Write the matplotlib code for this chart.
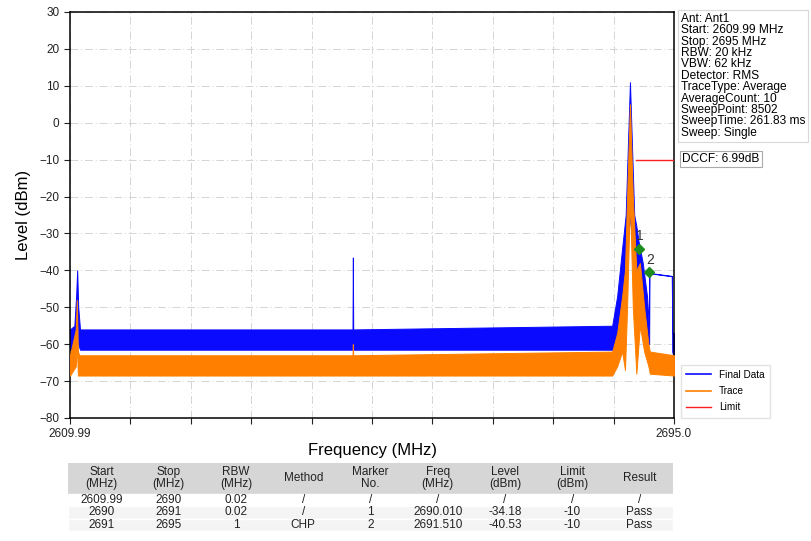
import numpy as np
import matplotlib.pyplot as plt
from matplotlib.patches import Rectangle

plt.rcParams['font.family'] = ['Liberation Sans', 'DejaVu Sans']

f_start, f_stop = 2609.99, 2695.0

# Final Data envelope (MHz, low dBm, high dBm)
blue_f = [2609.99, 2610.6, 2610.85, 2611.0, 2611.15, 2611.4, 2649.75, 2649.8,
          2649.85, 2686.3, 2687.0, 2687.7, 2688.2, 2688.8, 2689.4, 2689.7,
          2690.0, 2690.6, 2691.2, 2691.45, 2691.5, 2691.55, 2694.7, 2694.75,
          2695.0]
blue_lo = [-61.5, -61.5, -58, -52, -60, -61.5, -61.5, -61.5, -61.5, -61.5, -60,
           -52, -40, -25, -40, -60, -45, -50, -58, -60, -60, -40.8, -41.6, -62,
           -64]
blue_hi = [-56, -55, -47, -40, -50, -56, -56, -36.5, -56, -55, -47, -34, -25,
           11, -25, -28, -32, -38, -47, -55, -40.7, -40.7, -41.5, -57, -57]

# Trace envelope
orange_f = [2609.99, 2610.8, 2610.95, 2611.1, 2611.3, 2649.75, 2649.8, 2649.85,
            2686.3, 2687.0, 2687.7, 2688.1, 2688.4, 2688.8, 2689.2, 2689.7,
            2690.2, 2690.8, 2691.4, 2691.6, 2695.0]
orange_lo = [-68.5, -66, -60, -68.5, -68.5, -68.5, -68.5, -68.5, -68.5, -66,
             -62, -67, -50, -20, -50, -68, -55, -62, -66, -68, -68.5]
orange_hi = [-63, -56, -48, -62, -63, -63, -60, -63, -62, -57, -47, -40, -20,
             5, -20, -40, -38, -50, -60, -62, -63]

limit_f = [2689.7, 2695.0]
limit_lvl = [-10, -10]

marker_no = ['1', '2']
marker_f = [2690.010, 2691.510]
marker_lvl = [-34.18, -40.53]

info_lines = ['Ant: Ant1', 'Start: 2609.99 MHz', 'Stop: 2695 MHz', 'RBW: 20 kHz',
              'VBW: 62 kHz', 'Detector: RMS', 'TraceType: Average',
              'AverageCount: 10', 'SweepPoint: 8502', 'SweepTime: 261.83 ms',
              'Sweep: Single']
dccf_text = 'DCCF: 6.99dB'

col_headers = ['Start\n(MHz)', 'Stop\n(MHz)', 'RBW\n(MHz)', 'Method', 'Marker\nNo.',
               'Freq\n(MHz)', 'Level\n(dBm)', 'Limit\n(dBm)', 'Result']
table_rows = [
    ['2609.99', '2690', '0.02', '/', '/', '/', '/', '/', '/'],
    ['2690', '2691', '0.02', '/', '1', '2690.010', '-34.18', '-10', 'Pass'],
    ['2691', '2695', '1', 'CHP', '2', '2691.510', '-40.53', '-10', 'Pass'],
]

blue = '#0a0aff'
orange = '#ff8000'
red = '#ff2020'

fig = plt.figure(figsize=(8.11, 5.41), dpi=100)
ax = fig.add_axes([70 / 811, 1 - 418 / 541, 604 / 811, 406 / 541])

ax.fill_between(blue_f, blue_lo, blue_hi, color=blue, lw=0.7, zorder=2)
ax.fill_between(orange_f, orange_lo, orange_hi, color=orange, lw=0.7, zorder=3)
l_fd, = ax.plot([], [], color=blue, lw=1.2, label='Final Data')
l_tr, = ax.plot([], [], color=orange, lw=1.2, label='Trace')
l_lim, = ax.plot(limit_f, limit_lvl, color=red, lw=1.0, label='Limit', zorder=4)

ax.plot(marker_f, marker_lvl, 'D', color='#1e8c1e', ms=5, zorder=5)
for no, f, lv in zip(marker_no, marker_f, marker_lvl):
    ax.annotate(no, (f, lv), xytext=(1, 4), textcoords='offset points',
                ha='center', va='bottom', fontsize=10, color='#333333', zorder=6)

ax.set_xlim(f_start, f_stop)
ax.set_ylim(-80, 30)
ax.set_yticks(np.arange(-80, 31, 10))
xt = np.linspace(f_start, f_stop, 11)
ax.set_xticks(xt)
ax.set_xticklabels(['2609.99'] + [''] * 9 + ['2695.0'])
ax.tick_params(labelsize=8.5, colors='#222222', length=4)
ax.grid(True, color='#d4d4d4', ls=(0, (8, 3, 1, 3)), lw=0.7)
ax.set_axisbelow(True)
ax.set_xlabel('Frequency (MHz)', fontsize=12, labelpad=2)
ax.set_ylabel('Level (dBm)', fontsize=12, labelpad=6)
for s in ax.spines.values():
    s.set_linewidth(1.1)

fig.text(681 / 811, 1 - 13 / 541, '\n'.join(info_lines), fontsize=8.6, va='top',
         ha='left', linespacing=0.93,
         bbox=dict(boxstyle='square,pad=0.25', fc='white', ec='#d8d8d8', lw=0.8))
fig.text(682 / 811, 1 - 159 / 541, dccf_text, fontsize=8.6, va='center', ha='left',
         bbox=dict(boxstyle='square,pad=0.2', fc='white', ec='#aaaaaa', lw=0.8))

fig.legend(handles=[l_fd, l_tr, l_lim], loc='center left',
           bbox_to_anchor=(676 / 811, 1 - 391 / 541), fontsize=7.2, frameon=True,
           edgecolor='#dddddd', fancybox=False, handlelength=2.5,
           labelspacing=0.65, borderpad=0.5)

# results table
tax = fig.add_axes([68 / 811, 1 - 531 / 541, 605 / 811, 68 / 541])
tax.set_xlim(0, 9)
tax.set_ylim(0, 5.5)
tax.axis('off')
tax.add_patch(Rectangle((0, 3), 9, 2.5, fc='#d6d6d6', ec='none'))
for i, h in enumerate(col_headers):
    tax.text(i + 0.5, 4.25, h, ha='center', va='center', fontsize=8.5,
             linespacing=1.0, color='#222222')
for r, row in enumerate(table_rows):
    y0 = 2 - r
    tax.add_patch(Rectangle((0, y0), 9, 1, fc='#f4f4f4' if r else 'white',
                            ec='white', lw=1))
    for i, v in enumerate(row):
        tax.text(i + 0.5, y0 + 0.5, v, ha='center', va='center', fontsize=8.5,
                 color='#222222')

fig.savefig('out.png', dpi=100)
